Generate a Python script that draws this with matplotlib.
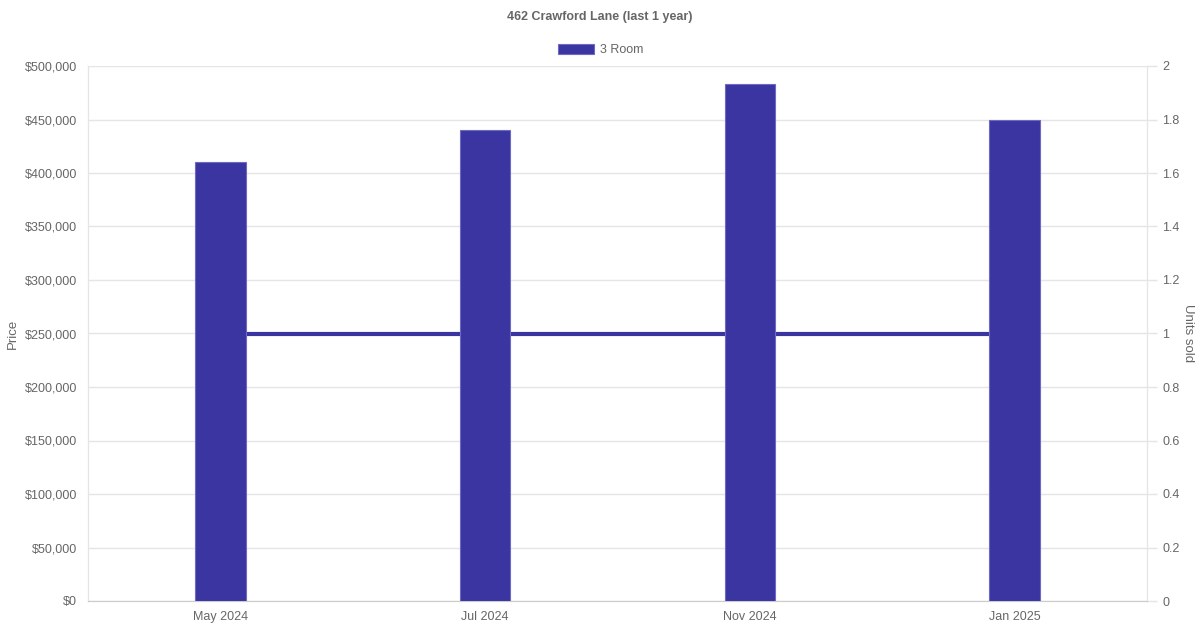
import matplotlib.pyplot as plt
from matplotlib.ticker import FuncFormatter, MultipleLocator

plt.rcParams['font.family'] = ['Liberation Sans', 'DejaVu Sans']

months = ['May 2024', 'Jul 2024', 'Nov 2024', 'Jan 2025']
price = [410000, 440000, 483000, 450000]
units = [1, 1, 1, 1]

bar_color = '#3a35a0'
text_color = '#666666'
grid_color = '#e5e5e5'

fig = plt.figure(figsize=(12, 6.3), dpi=100)
ax = fig.add_axes([88 / 1200, 29 / 630, 1059 / 1200, 535 / 630])
ax2 = ax.twinx()

# grid and line live on the right axis, behind the bars
ax2.grid(axis='y', color=grid_color, linewidth=1, zorder=0)
ax2.set_axisbelow(True)
ax2.plot(x := list(range(len(months))), units, color=bar_color, linewidth=3, zorder=2)
ax2.set_ylim(0, 2)
ax2.yaxis.set_major_locator(MultipleLocator(0.2))
ax2.yaxis.set_major_formatter(FuncFormatter(lambda v, p: f'{v:g}'))
ax2.tick_params(axis='y', colors=grid_color, labelcolor=text_color, labelsize=9,
                length=7, width=1, pad=4)
ax2.set_ylabel('Units sold', color=text_color, fontsize=9.5, rotation=270, labelpad=10)

ax.set_zorder(ax2.get_zorder() + 1)
ax.patch.set_visible(False)
ax.bar(x, price, width=0.19, color=bar_color, edgecolor='#6e69c4', linewidth=0.8,
       label='3 Room', zorder=3)
ax.set_xlim(-0.5, len(months) - 0.5)
ax.set_ylim(0, 500000)
ax.yaxis.set_major_locator(MultipleLocator(50000))
ax.yaxis.set_major_formatter(FuncFormatter(lambda v, p: f'${v:,.0f}'))
ax.set_xticks(x)
ax.set_xticklabels(months)
ax.tick_params(axis='both', colors=text_color, labelsize=9, length=0, pad=8)
ax.tick_params(axis='x', pad=7)
ax.set_ylabel('Price', color=text_color, fontsize=9.5, labelpad=4)

for a in (ax, ax2):
    a.spines['top'].set_visible(False)
    for s in ('left', 'right', 'bottom'):
        a.spines[s].set_color(grid_color)
ax.spines['bottom'].set_color('#cccccc')

fig.suptitle('462 Crawford Lane (last 1 year)', y=1 - 17 / 630, va='center',
             fontsize=9, fontweight='bold', color=text_color)
ax.legend(loc='lower center', bbox_to_anchor=(0.484, 1.0), frameon=False, fontsize=9,
          handlelength=2.9, handleheight=0.9, labelcolor=text_color,
          borderaxespad=0.4, handletextpad=0.5)

fig.savefig('out.png', dpi=100)
